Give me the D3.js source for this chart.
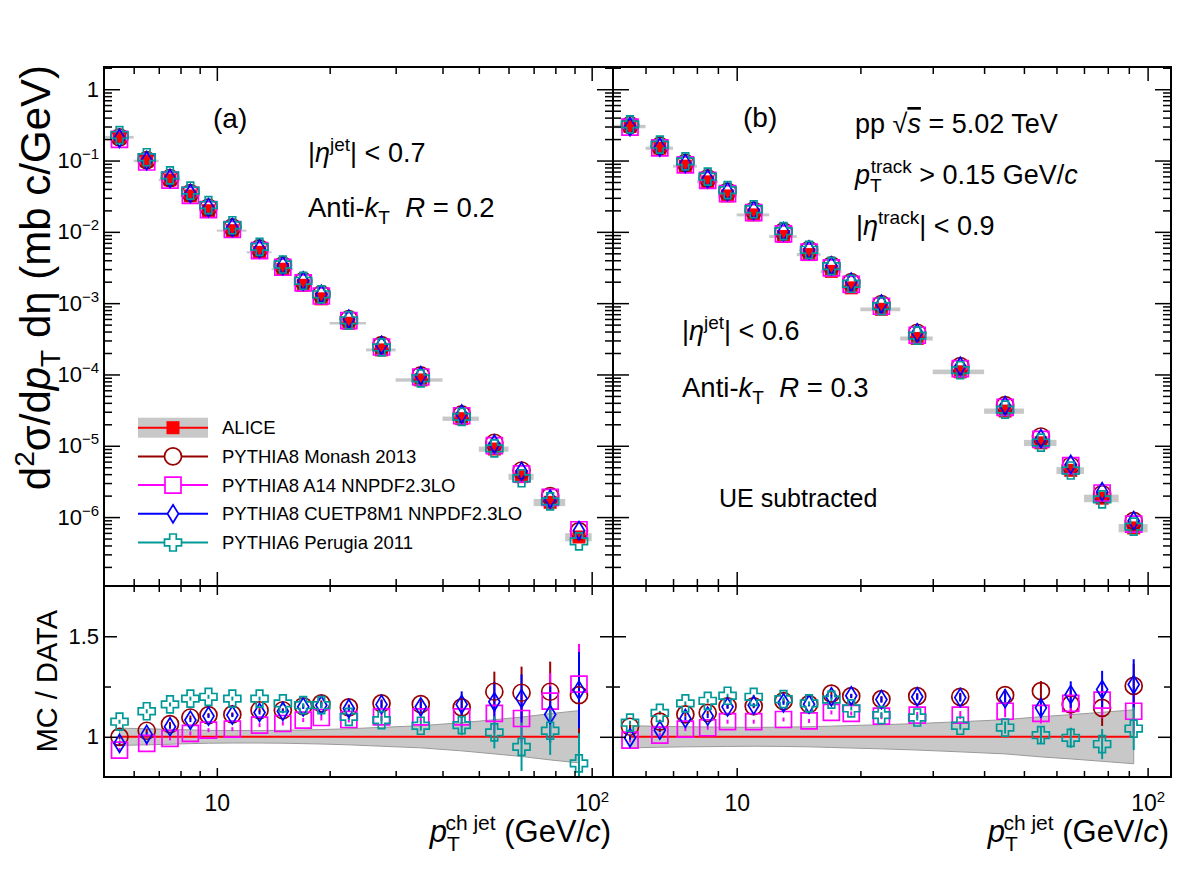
<!DOCTYPE html>
<html>
<head>
<meta charset="utf-8">
<script src="https://cdn.jsdelivr.net/npm/d3@7"></script>
<style>
  body { margin: 0; background: #fff; }
  svg { display: block; }
  text { font-family: "Liberation Sans", Arial, Helvetica, sans-serif; white-space: pre; }
</style>
</head>
<body>
<svg id="chart"></svg>
<script>
// jet pT bins (GeV/c)
const ptLo  = [5, 6, 7, 8, 9, 10, 12, 14, 16, 18, 20, 25, 30, 40, 50, 60, 70, 85];
const ptHi  = [6, 7, 8, 9, 10, 12, 14, 16, 18, 20, 25, 30, 40, 50, 60, 70, 85, 100];
const ptMid = [5.5, 6.5, 7.5, 8.5, 9.5, 11, 13, 15, 17, 19, 22.5, 27.5, 35, 45, 55, 65, 77.5, 92.5];

// ALICE cross sections (mb c/GeV)
const aliceA = [0.212, 0.0987, 0.0535, 0.0319, 0.0198, 0.0104, 5.17e-3, 2.99e-3, 1.78e-3, 1.15e-3,
                5.23e-4, 2.21e-4, 8.38e-5, 2.40e-5, 9.0e-6, 3.69e-6, 1.61e-6, 5.26e-7];
const aliceB = [0.300, 0.149, 0.0835, 0.0503, 0.0319, 0.0173, 8.6e-3, 4.8e-3, 2.79e-3, 1.64e-3,
                8.2e-4, 3.2e-4, 1.09e-4, 3.07e-5, 1.10e-5, 4.52e-6, 1.84e-6, 7.05e-7];
// relative systematic uncertainty of ALICE
const sysA = [0.043, 0.04, 0.037, 0.034, 0.032, 0.031, 0.031, 0.032, 0.034, 0.036,
              0.04, 0.047, 0.055, 0.07, 0.085, 0.098, 0.115, 0.13];
const sysB = [0.055, 0.052, 0.05, 0.049, 0.048, 0.047, 0.048, 0.05, 0.053, 0.056,
              0.06, 0.066, 0.075, 0.085, 0.1, 0.11, 0.122, 0.134];

// MC / DATA, R = 0.2
const monA = [1.0, 1.03, 1.063, 1.096, 1.108, 1.111, 1.132, 1.132, 1.152, 1.166, 1.146, 1.166, 1.162, 1.146, 1.224, 1.219, 1.224, 1.207];
const a14A = [0.934, 0.967, 0.992, 1.017, 1.033, 1.038, 1.058, 1.066, 1.083, 1.096, 1.086, 1.099, 1.099, 1.099, 1.116, 1.091, 1.177, 1.262];
const cueA = [0.967, 1.012, 1.05, 1.083, 1.103, 1.108, 1.121, 1.127, 1.149, 1.157, 1.141, 1.161, 1.149, 1.161, 1.174, 1.19, 1.111, 1.232];
const perA = [1.075, 1.127, 1.161, 1.19, 1.199, 1.19, 1.19, 1.166, 1.157, 1.157, 1.099, 1.083, 1.055, 1.058, 1.022, 0.95, 1.03, 0.868];
const monAErr = [0.01, 0.01, 0.01, 0.01, 0.01, 0.01, 0.01, 0.01, 0.01, 0.015, 0.015, 0.02, 0.025, 0.05, 0.1, 0.13, 0.15, 0.2];
const a14AErr = [0.01, 0.01, 0.01, 0.01, 0.01, 0.01, 0.01, 0.01, 0.01, 0.015, 0.015, 0.02, 0.025, 0.05, 0.1, 0.12, 0.14, 0.2];
const cueAErr = [0.01, 0.01, 0.01, 0.01, 0.01, 0.01, 0.01, 0.01, 0.01, 0.015, 0.015, 0.02, 0.025, 0.065, 0.1, 0.12, 0.14, 0.19];
const perAErr = [0.01, 0.01, 0.01, 0.01, 0.01, 0.01, 0.01, 0.01, 0.01, 0.015, 0.015, 0.02, 0.025, 0.05, 0.08, 0.12, 0.12, 0.15];

// MC / DATA, R = 0.3
const monB = [1.05, 1.075, 1.111, 1.119, 1.152, 1.152, 1.177, 1.162, 1.215, 1.202, 1.187, 1.202, 1.199, 1.207, 1.227, 1.161, 1.144, 1.253];
const a14B = [0.983, 1.008, 1.038, 1.045, 1.075, 1.075, 1.086, 1.079, 1.121, 1.116, 1.103, 1.108, 1.108, 1.127, 1.116, 1.166, 1.182, 1.127];
const cueB = [0.995, 1.033, 1.091, 1.103, 1.149, 1.157, 1.169, 1.162, 1.199, 1.204, 1.185, 1.199, 1.195, 1.19, 1.144, 1.21, 1.235, 1.26];
const perB = [1.07, 1.119, 1.166, 1.179, 1.204, 1.199, 1.187, 1.166, 1.185, 1.141, 1.108, 1.096, 1.055, 1.046, 1.008, 0.995, 0.964, 1.041];
const monBErr = [0.01, 0.01, 0.01, 0.01, 0.01, 0.01, 0.01, 0.01, 0.01, 0.01, 0.015, 0.015, 0.02, 0.03, 0.05, 0.07, 0.09, 0.11];
const a14BErr = [0.01, 0.01, 0.01, 0.01, 0.01, 0.01, 0.01, 0.01, 0.01, 0.01, 0.015, 0.015, 0.02, 0.03, 0.05, 0.065, 0.09, 0.11];
const cueBErr = [0.01, 0.01, 0.01, 0.01, 0.01, 0.01, 0.01, 0.01, 0.01, 0.01, 0.015, 0.015, 0.02, 0.03, 0.05, 0.066, 0.093, 0.126];
const perBErr = [0.01, 0.01, 0.01, 0.01, 0.01, 0.01, 0.01, 0.01, 0.01, 0.01, 0.015, 0.015, 0.02, 0.03, 0.04, 0.05, 0.075, 0.107];

const seriesNames = ["ALICE", "PYTHIA8 Monash 2013", "PYTHIA8 A14 NNPDF2.3LO",
                     "PYTHIA8 CUETP8M1 NNPDF2.3LO", "PYTHIA6 Perugia 2011"];

// axis ticks
const xMajor = [10, 100];
const xMinor = [6, 7, 8, 9, 20, 30, 40, 50, 60, 70, 80, 90];
const yMajorU = [1e-6, 1e-5, 1e-4, 1e-3, 1e-2, 1e-1, 1];
const yMajorL = [1, 1.5];
const yMinorL = [1.25];

const styles = [
  {shape: 'fsquare', color: '#ff0000'},
  {shape: 'circle',  color: '#990000'},
  {shape: 'square',  color: '#ff00ff'},
  {shape: 'diamond', color: '#0000ff'},
  {shape: 'cross',   color: '#009999'}
];

const W = 1182, H = 888;
const topY = 67, splitY = 586, botY = 777;

const svg = d3.select('#chart').attr('width', W).attr('height', H);

function shapePath(shape) {
  const p = d3.path();
  if (shape === 'circle') {
    p.moveTo(8.5, 0); p.arc(0, 0, 8.5, 0, 2 * Math.PI); p.closePath();
  } else if (shape === 'fsquare') {
    p.rect(-6.5, -6.5, 13, 13);
  } else if (shape === 'square') {
    p.rect(-8, -8, 16, 16);
  } else if (shape === 'diamond') {
    p.moveTo(0, -9); p.lineTo(5.5, 0); p.lineTo(0, 9); p.lineTo(-5.5, 0); p.closePath();
  } else if (shape === 'cross') {
    const a = 3.3, e = 8.5;
    p.moveTo(-a, -e); p.lineTo(a, -e); p.lineTo(a, -a); p.lineTo(e, -a); p.lineTo(e, a);
    p.lineTo(a, a); p.lineTo(a, e); p.lineTo(-a, e); p.lineTo(-a, a); p.lineTo(-e, a);
    p.lineTo(-e, -a); p.lineTo(-a, -a); p.closePath();
  }
  return p.toString();
}

function drawMarker(g, st, x, y, fill) {
  g.append('path')
    .attr('d', shapePath(st.shape))
    .attr('transform', `translate(${x},${y})`)
    .attr('fill', st.shape === 'fsquare' ? st.color : (fill || 'none'))
    .attr('stroke', st.shape === 'fsquare' ? 'none' : st.color)
    .attr('stroke-width', 1.7);
}

function rich(g, x, y, size, parts, anchor) {
  const t = g.append('text')
    .attr('x', x).attr('y', y)
    .attr('font-size', size)
    .attr('text-anchor', anchor || 'start')
    .attr('fill', '#000');
  parts.forEach(p => {
    const s = t.append('tspan').text(p.t);
    if (p.i) s.attr('font-style', 'italic');
    if (p.s) s.attr('font-size', p.s);
    if (p.dy) s.attr('dy', p.dy);
    if (p.dx) s.attr('dx', p.dx);
    if (p.o) s.attr('text-decoration', 'overline');
  });
  return t;
}

function powLabel(sel) {
  sel.each(function(v) {
    const t = d3.select(this);
    const k = Math.round(Math.log10(v));
    t.text(null);
    if (k === 0) { t.append('tspan').text('1'); return; }
    if (k === 1) { t.append('tspan').text('10'); return; }
    t.append('tspan').text('10');
    t.append('tspan').attr('font-size', 15).attr('dy', -9).text(k < 0 ? '\u2212' + (-k) : String(k));
  });
}

function ticks(g, axis) {
  g.call(axis);
  g.select('.domain').remove();
  g.selectAll('.tick line').attr('stroke', '#000').attr('stroke-width', 1.5);
  return g;
}

const panels = [
  { x0: 104, x1: 613, alice: aliceA, sys: sysA,
    ratios: [monA, a14A, cueA, perA], errs: [monAErr, a14AErr, cueAErr, perAErr], leftLabels: true },
  { x0: 613, x1: 1171, alice: aliceB, sys: sysB,
    ratios: [monB, a14B, cueB, perB], errs: [monBErr, a14BErr, cueBErr, perBErr], leftLabels: false }
];

panels.forEach((P, pi) => {
  const x = d3.scaleLog().domain([5, 114]).range([P.x0, P.x1]);
  const yU = d3.scaleLog().domain([1.08e-7, 2.05]).range([splitY, topY]);
  const yL = d3.scaleLinear().domain([0.8, 1.75]).range([botY, splitY]);

  const yMinorU = [];
  for (let k = -7; k <= 0; k++) for (let m = 2; m <= 9; m++) {
    const v = m * Math.pow(10, k);
    if (v > yU.domain()[0] && v < yU.domain()[1]) yMinorU.push(v);
  }

  const clipU = 'clipU' + pi, clipL = 'clipL' + pi;
  const defs = svg.append('defs');
  defs.append('clipPath').attr('id', clipU).append('rect')
    .attr('x', P.x0).attr('y', topY).attr('width', P.x1 - P.x0).attr('height', splitY - topY);
  defs.append('clipPath').attr('id', clipL).append('rect')
    .attr('x', P.x0).attr('y', splitY).attr('width', P.x1 - P.x0).attr('height', botY - splitY);

  // ---------- upper panel ----------
  const up = svg.append('g').attr('clip-path', `url(#${clipU})`);
  up.selectAll('rect.sys')
    .data(P.alice)
    .join('rect')
    .attr('class', 'sys')
    .attr('x', (d, i) => x(ptLo[i]))
    .attr('width', (d, i) => x(ptHi[i]) - x(ptLo[i]))
    .attr('y', (d, i) => yU(d * (1 + P.sys[i])))
    .attr('height', (d, i) => yU(d * (1 - P.sys[i])) - yU(d * (1 + P.sys[i])))
    .attr('fill', '#c8c8c8');
  P.alice.forEach((d, i) => drawMarker(up, styles[0], x(ptMid[i]), yU(d)));
  P.ratios.forEach((r, s) => {
    r.forEach((v, i) => drawMarker(up, styles[s + 1], x(ptMid[i]), yU(P.alice[i] * v)));
  });

  // ---------- lower panel ----------
  const lo = svg.append('g').attr('clip-path', `url(#${clipL})`);
  const band = d3.area()
    .x((d, i) => x(ptMid[i]))
    .y0(d => yL(1 - d))
    .y1(d => yL(1 + d));
  lo.append('path').attr('d', band(P.sys))
    .attr('fill', '#c8c8c8').attr('stroke', '#9a9a9a').attr('stroke-width', 1);
  const unity = d3.line().x(d => x(d)).y(() => yL(1));
  lo.append('path').attr('d', unity(ptMid))
    .attr('fill', 'none').attr('stroke', '#ff0000').attr('stroke-width', 2);
  P.ratios.forEach((r, s) => {
    const st = styles[s + 1];
    r.forEach((v, i) => {
      const e = P.errs[s][i];
      lo.append('line')
        .attr('x1', x(ptMid[i])).attr('x2', x(ptMid[i]))
        .attr('y1', yL(v - e)).attr('y2', yL(v + e))
        .attr('stroke', st.color).attr('stroke-width', 2);
    });
  });
  P.ratios.forEach((r, s) => {
    r.forEach((v, i) => drawMarker(lo, styles[s + 1], x(ptMid[i]), yL(v)));
  });

  // ---------- axes / ticks ----------
  const ax = svg.append('g');
  // upper panel x ticks (top & bottom)
  ticks(ax.append('g').attr('transform', `translate(0,${topY})`),
    d3.axisTop(x).tickValues(xMajor).tickSize(-14).tickSizeOuter(0).tickFormat(''));
  ticks(ax.append('g').attr('transform', `translate(0,${topY})`),
    d3.axisTop(x).tickValues(xMinor).tickSize(-7).tickSizeOuter(0).tickFormat(''));
  ticks(ax.append('g').attr('transform', `translate(0,${splitY})`),
    d3.axisBottom(x).tickValues(xMajor).tickSize(-14).tickSizeOuter(0).tickFormat(''));
  ticks(ax.append('g').attr('transform', `translate(0,${splitY})`),
    d3.axisBottom(x).tickValues(xMinor).tickSize(-7).tickSizeOuter(0).tickFormat(''));
  // lower panel x ticks
  ticks(ax.append('g').attr('transform', `translate(0,${splitY})`),
    d3.axisTop(x).tickValues(xMajor).tickSize(-9).tickSizeOuter(0).tickFormat(''));
  ticks(ax.append('g').attr('transform', `translate(0,${splitY})`),
    d3.axisTop(x).tickValues(xMinor).tickSize(-6).tickSizeOuter(0).tickFormat(''));
  const xb = ticks(ax.append('g').attr('transform', `translate(0,${botY})`),
    d3.axisBottom(x).tickValues(xMajor).tickSize(-9).tickSizeOuter(0).tickPadding(18));
  xb.selectAll('text').attr('font-size', 23).attr('fill', '#000')
    .attr('font-family', '"Liberation Sans", Arial, sans-serif').call(powLabel);
  ticks(ax.append('g').attr('transform', `translate(0,${botY})`),
    d3.axisBottom(x).tickValues(xMinor).tickSize(-6).tickSizeOuter(0).tickFormat(''));

  // upper y ticks
  const yl = ticks(ax.append('g').attr('transform', `translate(${P.x0},0)`),
    d3.axisLeft(yU).tickValues(yMajorU).tickSize(-16).tickSizeOuter(0).tickPadding(5));
  if (P.leftLabels) {
    yl.selectAll('text').attr('font-size', 22).attr('fill', '#000')
      .attr('font-family', '"Liberation Sans", Arial, sans-serif').call(powLabel);
  } else {
    yl.selectAll('text').remove();
  }
  ticks(ax.append('g').attr('transform', `translate(${P.x0},0)`),
    d3.axisLeft(yU).tickValues(yMinorU).tickSize(-8).tickSizeOuter(0).tickFormat(''));
  ticks(ax.append('g').attr('transform', `translate(${P.x1},0)`),
    d3.axisRight(yU).tickValues(yMajorU).tickSize(-16).tickSizeOuter(0).tickFormat(''));
  ticks(ax.append('g').attr('transform', `translate(${P.x1},0)`),
    d3.axisRight(yU).tickValues(yMinorU).tickSize(-8).tickSizeOuter(0).tickFormat(''));

  // lower y ticks
  const yll = ticks(ax.append('g').attr('transform', `translate(${P.x0},0)`),
    d3.axisLeft(yL).tickValues(yMajorL).tickSize(-13).tickSizeOuter(0).tickPadding(5)
      .tickFormat(d3.format('')));
  if (P.leftLabels) {
    yll.selectAll('text').attr('font-size', 22).attr('fill', '#000')
      .attr('font-family', '"Liberation Sans", Arial, sans-serif');
  } else {
    yll.selectAll('text').remove();
  }
  ticks(ax.append('g').attr('transform', `translate(${P.x0},0)`),
    d3.axisLeft(yL).tickValues(yMinorL).tickSize(-7).tickSizeOuter(0).tickFormat(''));
  ticks(ax.append('g').attr('transform', `translate(${P.x1},0)`),
    d3.axisRight(yL).tickValues(yMajorL).tickSize(-13).tickSizeOuter(0).tickFormat(''));
  ticks(ax.append('g').attr('transform', `translate(${P.x1},0)`),
    d3.axisRight(yL).tickValues(yMinorL).tickSize(-7).tickSizeOuter(0).tickFormat(''));

  // frames
  ax.append('rect').attr('x', P.x0).attr('y', topY).attr('width', P.x1 - P.x0).attr('height', splitY - topY)
    .attr('fill', 'none').attr('stroke', '#000').attr('stroke-width', 2);
  ax.append('rect').attr('x', P.x0).attr('y', splitY).attr('width', P.x1 - P.x0).attr('height', botY - splitY)
    .attr('fill', 'none').attr('stroke', '#000').attr('stroke-width', 2);

  // x title
  rich(ax, P.x1 - 2, 842, 31, [
    {t: 'p', i: true},
    {t: 'T', s: 21, dy: 9},
    {t: 'ch jet', s: 21, dx: -12, dy: -21},
    {t: ' (GeV/', dy: 12},
    {t: 'c', i: true},
    {t: ')'}
  ], 'end');
});

// y titles
const yt = svg.append('g').attr('transform', 'translate(50,65) rotate(-90)');
rich(yt, 0, 0, 42, [
  {t: 'd'}, {t: '2', s: 28, dy: -16}, {t: '\u03c3/d', dy: 16}, {t: 'p', i: true},
  {t: 'T', s: 28, dy: 10}, {t: ' d\u03b7 (mb c/GeV)', dy: -10}
], 'end');
const yt2 = svg.append('g').attr('transform', 'translate(57,610) rotate(-90)');
rich(yt2, 0, 0, 29, [{t: 'MC / DATA'}], 'end');

// annotations, panel (a)
const ann = svg.append('g');
rich(ann, 213, 128, 28, [{t: '(a)'}]);
rich(ann, 308, 162, 27, [{t: '|'}, {t: '\u03b7', i: true}, {t: 'jet', s: 19, dy: -11}, {t: '| < 0.7', dy: 11}]);
rich(ann, 308, 217, 27.5, [{t: 'Anti-'}, {t: 'k', i: true}, {t: 'T', s: 19, dy: 7}, {t: '  ', dy: -7}, {t: 'R', i: true}, {t: ' = 0.2'}]);

// annotations, panel (b)
rich(ann, 743, 127, 28, [{t: '(b)'}]);
rich(ann, 855, 133, 27, [{t: 'pp '}, {t: '\u221a'}, {t: 's', i: true, o: true}, {t: ' = 5.02 TeV'}]);
rich(ann, 855, 184, 27, [{t: 'p', i: true}, {t: 'T', s: 19, dy: 8}, {t: 'track', s: 19, dx: -11, dy: -19},
  {t: ' > 0.15 GeV/', dy: 11}, {t: 'c', i: true}]);
rich(ann, 856, 235, 27, [{t: '|'}, {t: '\u03b7', i: true}, {t: 'track', s: 19, dy: -11}, {t: '| < 0.9', dy: 11}]);
rich(ann, 682, 340, 27, [{t: '|'}, {t: '\u03b7', i: true}, {t: 'jet', s: 19, dy: -11}, {t: '| < 0.6', dy: 11}]);
rich(ann, 682, 397, 27.5, [{t: 'Anti-'}, {t: 'k', i: true}, {t: 'T', s: 19, dy: 7}, {t: '  ', dy: -7}, {t: 'R', i: true}, {t: ' = 0.3'}]);
rich(ann, 719, 507, 25, [{t: 'UE subtracted'}]);

// legend
const leg = svg.append('g');
const legY0 = 427.7, legDy = 28.7;
seriesNames.forEach((name, i) => {
  const y = legY0 + i * legDy;
  const st = styles[i];
  if (i === 0) {
    leg.append('rect').attr('x', 138).attr('y', y - 10).attr('width', 70).attr('height', 20).attr('fill', '#c8c8c8');
  }
  leg.append('line').attr('x1', 138).attr('x2', 208).attr('y1', y).attr('y2', y)
    .attr('stroke', st.color).attr('stroke-width', 2);
  drawMarker(leg, st, 173, y, '#fff');
  leg.append('text').attr('x', 222).attr('y', y + 6.5).attr('font-size', 18.5).text(name);
});
</script>
</body>
</html>
